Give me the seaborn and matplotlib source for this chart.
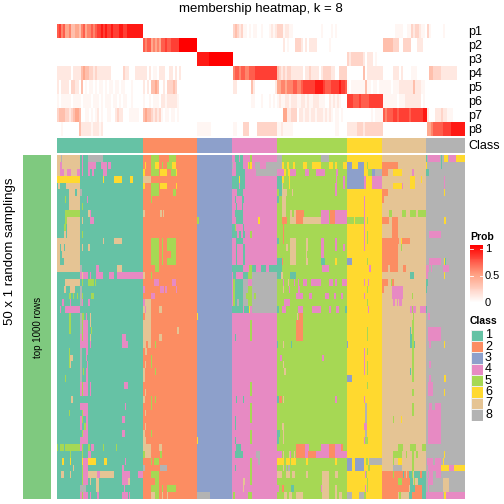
import numpy as np
import matplotlib
matplotlib.use("Agg")
import matplotlib.pyplot as plt
import seaborn as sns
from matplotlib.colors import ListedColormap, LinearSegmentedColormap

plt.rcParams['font.family'] = ['Liberation Sans', 'DejaVu Sans']

class_colors = ["#66C2A5", "#FC8D62", "#8DA0CB", "#E78AC3", "#A6D854", "#FFD92F", "#E5C494", "#B3B3B3"]
class_names = ["1", "2", "3", "4", "5", "6", "7", "8"]
class_widths = [86, 54, 35, 45, 70, 35, 44, 39]
prob_names = ["p1", "p2", "p3", "p4", "p5", "p6", "p7", "p8"]
prob_widths = [43, 27, 18, 22, 35, 18, 22, 19]
# hex digit in the strings below -> probability
prob_levels = [0, .05, .12, .22, .33, .45, .58, .7, .8, .92, 1]

# one string per class, one list per row p1..p8
p1 = ["7867556445546756676788989889888998899999999", "", "", "3432311010110010001212",
      "33312211000000000000001000010100000", "", "0000001111001132332110", "3100000010"]
p2 = ["", "767756565778778888aaaaaaaaa", "", "",
      "00020100033320202222000000100000000", "", "444443330033330002220", ""]
p3 = ["", "", "999999aaaaaaaaaaaa", "", "", "323333332022201000", "", ""]
p4 = ["2222222022224544332322222220000003220002222", "220201102220022020200000000", "", "6776776677788888888888",
      "43232332222220223222202333322003333", "000000004022222222", "0000022202000011100000", "0443333222222220000"]
p5 = ["2022220332204010110101101011011011000100", "202044540020333430000000000", "", "2200000004200000000002",
      "55665666776678888889999877788889887", "101111111411011011", "1111011122222224222110", ""]
p6 = ["1011111011110111101110101110110101100100", "1001011102212222210000000000", "", "0000000001100010001010",
      "12112212221122121122211100212121", "888777877778888888", "1111111011122222222010", ""]
p7 = ["3444332345540011010120100110023220001111100", "4544323231011011010000000", "", "",
      "000552233302212212212221212101101", "000000000000101111", "7677788788888788888899", "2000222322111000000"]
p8 = ["00100000000422222122212", "", "111111100000000000", "1100033300003333333333",
      "11211111000000000000000000000110000", "222223332333333333", "", "5567777788889999999"]
prob_rows = [p1, p2, p3, p4, p5, p6, p7, p8]

# main matrix: triples "class first_col end_col" painted over the column's own class, per row
left_stripes = [
    "7 0 23 8 4 5 4 25 26 8 31 46 5 94 102 5 112 119",
    "7 0 23 4 3 5 4 25 26 4 31 39 4 44 50 4 51 54 6 88 89 5 94 102 6 98 102 5 105 106 5 110 115 6 115 119",
    "7 0 23 4 3 7 4 10 14 4 20 23 4 25 26 4 31 33 4 35 37 4 46 50 6 86 88 5 94 102 6 103 110 5 114 119 6 119 120",
    "6 0 23 6 46 47 6 57 65 6 73 76 7 86 94",
    "7 1 3 7 9 23 6 86 88 5 94 102 6 103 110 6 119 120",
    "7 12 18 7 20 23 8 23 25 5 94 102 5 116 119",
    "5 8 9 7 12 23 4 30 31 5 94 95",
    "7 12 23 5 25 26",
    "5 8 23 7 31 33 4 33 34 7 86 88 7 103 105 7 106 107",
    "5 8 10 7 10 23 7 25 26 4 33 37 5 140 142",
    "5 7 9 7 10 23",
    "7 7 9 7 10 23 5 25 26",
    "7 0 23 7 46 47 7 57 65 5 94 102 5 105 106 5 110 119",
    "7 0 23 1 3 4 1 7 8 7 25 26 7 31 33 5 94 102 5 105 106 5 110 119",
    "7 0 3 7 5 23 5 94 102 5 105 106 5 114 119",
    "7 0 3 7 7 23 5 94 102 5 105 106 5 110 119",
    "7 0 23 8 23 25 4 39 42 7 60 65 5 98 102",
    "4 23 25 4 26 31 4 33 34 4 39 46 4 52 57 4 60 86 7 86 88 5 94 95 7 25 26",
    "7 8 23 5 25 26 5 31 37 5 38 39 4 97 102 4 115 119",
    "7 7 9 7 13 18 8 23 25 4 86 88 4 103 107 4 108 110 4 119 120",
    "5 12 14 5 16 17 5 20 21 8 23 25 5 25 26 5 34 37 4 94 98",
    "4 5 7 4 13 14 8 23 25 4 25 26 4 31 33 4 86 88 7 88 94",
    "4 3 4 4 8 23 7 86 88 4 88 89 7 89 94 7 102 105",
    "5 12 14 8 23 25 5 25 27 4 29 30 7 33 34 7 88 94 6 140 141",
    "5 12 14 8 23 25 5 25 26 4 26 31 7 33 34 7 86 94",
    "5 12 14 8 23 25 5 25 26 4 26 31 5 34 35 7 86 94 7 120 122",
    "4 23 25 5 25 26 4 26 31 7 33 34 4 65 69 7 86 94 7 102 105",
    "4 23 31 4 33 34 4 65 71 7 86 89 7 91 94 5 98 99",
    "5 12 13 8 23 25 4 29 31 7 88 90",
    "5 12 13 7 13 16 8 23 25 4 29 30 5 94 95",
    "5 12 13 7 13 14 8 23 25 4 30 31 7 88 89 5 94 95",
    "8 23 25 5 26 27 4 29 31 7 86 88 5 98 99",
    "5 8 9 8 23 25 4 29 31 7 86 88",
    "4 23 25 5 25 26 4 26 31 4 33 34 4 67 71",
    "4 23 31 5 25 26 4 33 34 7 88 89",
    "7 14 16 7 86 88 5 94 95 5 98 99",
    "4 23 31 4 68 69 5 94 95",
    "5 12 13 4 25 31 5 25 26 7 88 89",
    "4 23 25 5 25 26 4 29 31 4 65 68",
    "4 23 25 5 27 29 4 29 31 7 88 89",
    "4 26 31 5 25 26 4 65 68 7 86 88 5 94 95",
    "4 23 31 7 86 89 6 140 141",
    "5 0 1 5 3 7 5 8 23 4 23 25 5 25 26 5 31 33 4 34 37 5 46 47 5 59 60 7 86 94 7 102 105",
    "5 13 14 5 25 26 4 31 34 5 86 88 7 88 94 5 103 105",
    "6 5 7 6 13 14 6 25 26 4 26 31 6 31 39 6 47 50 4 68 69 5 94 95 5 97 102",
    "7 16 17 5 25 26 4 26 31 4 65 67 8 86 88 8 103 110",
    "7 4 7 7 13 14 5 25 26 4 26 31 7 31 40 4 40 43 7 43 57 4 65 73 4 81 86 5 94 102",
    "5 25 26 4 26 31 7 33 34 7 39 42 4 65 71 7 71 73 5 98 102",
    "8 23 29 7 39 42 4 67 68 5 94 102 5 105 106 5 110 119",
    "4 23 25 5 25 26 4 26 31 4 33 34 4 40 42 4 65 69 4 69 71 4 72 73 7 94 98 5 98 102 7 105 106 7 110 111 8 140 153",
]

mid_stripes = [
    "1 178 186 4 182 183 5 193 195 8 220 225 8 264 272",
    "8 175 176 1 179 186 6 191 192 5 192 193 6 193 195 8 198 203 8 209 220 8 220 225 6 225 227 6 230 232 6 236 238 6 246 250 6 255 264 6 272 276 6 278 280 6 286 290",
    "1 179 188 8 199 220 4 220 227 6 227 229 6 231 233 4 233 239 4 248 252 4 259 268 4 279 281",
    "1 175 182 6 182 183 1 183 188 1 220 225 6 225 227 6 232 233 4 279 280 4 286 288",
    "1 175 182 1 183 188 1 220 225 7 225 226 6 232 233 4 278 280 4 286 288",
    "1 180 186 1 222 225 7 225 230 7 235 236 4 278 280",
    "1 178 179 1 185 187 1 220 222 7 225 229",
    "1 179 180 1 185 186 7 225 229",
    "1 178 186 7 225 229 7 233 235 7 237 239 2 239 247 4 264 272 2 273 278 4 278 290",
    "1 179 186 6 201 203 2 225 230 7 233 239 2 239 246 7 246 264 4 264 272 2 273 278 4 278 290",
    "1 175 178 5 178 179 1 186 187 2 226 227",
    "1 175 180 1 182 184 1 186 188 5 193 195 2 226 227",
    "1 179 186 1 220 222 2 226 227 7 233 239 7 249 251 4 264 267 4 278 280",
    "1 179 180 1 186 188 7 229 231 7 233 239 7 249 251 4 264 267 4 278 280 4 286 288",
    "1 179 180 1 186 188 7 233 239 7 249 250 4 264 267",
    "1 179 180 1 186 188 1 220 225 2 225 226 7 233 239 7 249 251 1 264 268 6 278 280",
    "1 175 186 5 192 195 1 195 199 1 204 209 1 212 220 1 220 225 4 265 272",
    "1 176 179 1 186 191 5 191 195 8 195 220 1 220 224 7 224 226 1 233 239",
    "5 176 178 1 178 186 8 186 191 8 195 220 4 226 227 7 231 232 4 237 238 4 241 242 4 246 250 4 254 264 4 272 276 4 278 280 4 285 290",
    "5 176 178 1 178 186 8 186 191 5 191 195 8 195 220 7 226 227 4 232 233 4 241 243",
    "5 176 178 1 178 186 8 186 189 5 189 195 8 195 197 5 197 199 8 199 220 4 239 246 4 252 255 4 268 272 4 277 279 4 284 286",
    "5 176 178 1 178 180 8 180 182 1 182 186 8 186 191 5 191 195 8 195 220 4 227 233",
    "1 175 186 1 187 192 6 192 193 8 195 220 1 220 222 4 225 229 4 241 246 4 255 264 4 272 274 4 279 282 1 288 290",
    "7 240 241 2 242 246",
    "5 193 195 2 239 246",
    "5 193 195 2 239 246",
    "1 178 179 5 193 195 2 239 246",
    "1 220 221 7 226 227 1 234 235",
    "",
    "4 223 225 4 265 267",
    "7 226 227",
    "7 227 229",
    "",
    "5 193 195",
    "5 193 195",
    "1 179 180 1 186 187 1 220 222 2 222 225 7 226 227 4 278 280",
    "5 193 195",
    "5 193 195",
    "1 178 179 5 193 195",
    "1 178 179 7 225 227",
    "5 193 195 1 220 223 7 226 227",
    "1 178 179 5 193 195 1 220 222 7 226 227",
    "1 179 184 2 239 248 4 248 252 4 264 272 2 272 278 4 278 284 2 284 286",
    "1 178 186 8 199 203 4 220 225 7 226 227 7 232 233 4 233 234 7 237 238 2 239 248 4 248 251 2 251 259 4 259 272 2 272 278 4 278 290",
    "5 193 195 8 201 203 6 220 227 6 229 233 6 234 239 6 249 251 6 278 280",
    "1 178 179 5 193 195 7 226 227 8 229 230 8 231 233",
    "5 193 195 7 220 225 7 229 233 7 235 238 7 249 251 7 265 272 7 278 281",
    "7 186 188 5 193 195 7 265 272",
    "7 186 187 4 220 222 2 225 227 1 234 237 4 264 265 7 265 272 7 278 280",
    "5 176 178 5 191 195 7 227 230 7 232 235 7 239 246 7 265 272 7 278 280 7 282 285",
]

right_stripes = [
    "1 369 370 4 371 383 1 384 385 6 387 391 4 392 399 6 399 408",
    "3 290 295 3 301 307 5 310 311 2 325 341 6 369 370 1 384 385",
    "3 290 307 5 311 315 3 315 318 8 318 325 2 325 331 6 336 345 4 355 357 1 369 372",
    "3 290 307 4 307 309 4 315 325 6 353 358 6 364 365 4 387 388",
    "3 290 307 4 307 309 4 315 325 6 336 345 4 345 346 6 353 358 4 387 388",
    "2 325 331 6 387 388",
    "4 307 308 2 325 327",
    "4 307 308",
    "4 307 308 5 332 335 5 345 349 5 353 359 5 361 369",
    "5 290 297 5 298 307 4 307 308 5 310 311 2 325 332 2 335 341 6 387 389",
    "4 307 308 2 335 341",
    "4 307 308 5 310 311 2 335 341 4 372 384",
    "4 307 308 5 310 311 2 325 342 6 344 345 2 345 353",
    "4 307 308 2 325 341 5 344 345",
    "2 325 341",
    "3 290 295 5 310 311 2 325 341 4 372 384 6 387 388 1 388 389",
    "4 312 314 2 325 331 2 333 341 2 346 349 4 369 372 4 374 375 4 386 392",
    "1 353 357 4 369 371 6 387 388",
    "4 307 308 4 311 312 2 325 331 5 334 335 2 335 337 1 369 371",
    "5 310 311 2 325 327 4 335 346 1 369 370",
    "4 307 308 4 335 346 5 355 356",
    "5 310 311 4 336 338 4 340 341 4 342 345",
    "4 311 312 4 353 359 5 355 356 4 363 369 1 369 370",
    "5 356 357 4 371 373",
    "5 355 357",
    "5 310 311 1 353 354 5 355 357 4 371 384",
    "5 310 311 1 353 355 5 355 357 4 371 384",
    "3 290 291 1 353 355 5 355 357 1 357 358 4 372 374 6 387 388",
    "4 307 308 5 310 311 5 355 357",
    "4 307 308 5 355 357",
    "4 307 308 5 310 311 5 355 357 4 372 374",
    "4 307 308 5 310 311 1 353 354 5 355 357",
    "3 290 295 5 355 357 4 372 374 6 387 389",
    "5 310 311 4 371 376",
    "5 355 357 4 371 376 6 387 388",
    "4 307 308",
    "8 308 310 5 355 357 4 372 375 4 378 384",
    "8 308 310 5 355 357 4 371 384",
    "8 308 310 5 336 337 6 344 345 4 371 384",
    "4 307 310 4 371 384",
    "8 308 310 4 371 384",
    "4 307 308 5 308 311 4 371 384",
    "5 341 346 5 353 359 5 365 369",
    "5 336 345 5 349 350 5 355 357 5 359 361 6 387 388",
    "3 290 295 3 298 307 5 309 311 8 312 325 5 336 337 6 341 345 5 355 357 4 370 376 4 378 384 6 386 387",
    "3 290 295 3 298 307 5 311 313 8 336 345 5 355 357 4 371 384 6 384 392 4 392 397 6 397 408",
    "4 308 309 5 309 310 2 325 336 5 336 337 2 337 346 1 346 347 2 347 349 2 350 352 1 352 355 5 355 356 1 357 363 2 363 365 1 365 369 4 370 371 4 372 376 4 379 384",
    "5 310 311 2 325 341 5 341 345 2 345 353 1 353 356 5 357 358 1 361 369 4 371 376 7 386 392",
    "4 308 309 5 310 311 2 325 352 1 353 358 2 358 365 1 365 369 4 371 372 7 386 392",
    "8 290 295 8 302 307 5 307 309 2 325 341 5 342 344 1 352 355 2 355 365 1 365 369 4 369 386 6 387 389 4 389 408",
]

# Build the matrices
class_row = np.repeat(np.arange(1, 9), class_widths)
main = np.tile(class_row, (50, 1))
for stripes in (left_stripes, mid_stripes, right_stripes):
    for r, s in enumerate(stripes):
        t = [int(v) for v in s.split()]
        for i in range(0, len(t), 3):
            main[r, t[i + 1]:t[i + 2]] = t[i]

probs = []
for row in prob_rows:
    txt = "".join(s.ljust(n, "0")[:n] for s, n in zip(row, prob_widths))
    probs.append([prob_levels[int(c, 16)] for c in txt])
probs = np.array(probs)

class_cmap = ListedColormap(class_colors)
prob_cmap = LinearSegmentedColormap.from_list("prob", ["#FFFFFF", "#FF9E81", "#FF0000"])

fig = plt.figure(figsize=(5.04, 5.04), dpi=100)


def px_axes(x0, y0, x1, y1):
    return fig.add_axes([x0 / 504, 1 - y1 / 504, (x1 - x0) / 504, (y1 - y0) / 504])


def px_text(x, y, s, **kw):
    kw.setdefault("va", "center")
    fig.text(x / 504, 1 - y / 504, s, **kw)


def heat(ax, data, cmap, vmin, vmax, **kw):
    sns.heatmap(data, ax=ax, cmap=cmap, vmin=vmin, vmax=vmax, cbar=False,
                xticklabels=False, yticklabels=False, **kw)


# probability rows
ax = px_axes(57, 24, 465, 136.5)
heat(ax, probs, prob_cmap, 0, 1)

# class bar
ax = px_axes(57, 138, 465, 153)
heat(ax, class_row[None, :], class_cmap, 0.5, 8.5)

# main heatmap
ax = px_axes(57, 155, 465, 499)
heat(ax, main, class_cmap, 0.5, 8.5)

# left strip
ax = px_axes(23, 155, 51, 499)
heat(ax, np.zeros((1, 1)), ListedColormap(["#7FC97F"]), 0, 1)

px_text(261, 9, "membership heatmap, k = 8", ha="center", fontsize=9.5)
for i, name in enumerate(prob_names):
    px_text(468, 32 + i * 14, name, ha="left", fontsize=9)
px_text(468, 146, "Class", ha="left", fontsize=9)
px_text(10, 251, "50 x 1 random samplings", rotation=90, ha="center", fontsize=9.5)
px_text(38, 327, "top 1000 rows", rotation=90, ha="center", fontsize=7)

# legends
px_text(470, 237, "Prob", ha="left", fontsize=7.5, fontweight="bold")
ax = px_axes(470, 245, 482.5, 303)
heat(ax, np.linspace(1, 0, 60)[:, None], prob_cmap, 0, 1)
for v in (0.07, 0.53):
    ax.axhline(v * 60, color="white", lw=0.6, xmin=0, xmax=0.2)
    ax.axhline(v * 60, color="white", lw=0.6, xmin=0.8, xmax=1)
px_text(485, 249, "1", ha="left", fontsize=8)
px_text(485, 276, "0.5", ha="left", fontsize=8)
px_text(485, 303, "0", ha="left", fontsize=8)

px_text(470, 321, "Class", ha="left", fontsize=7.5, fontweight="bold")
ax = px_axes(470.5, 329.5, 482.5, 420.5)
heat(ax, np.arange(1, 9)[:, None], class_cmap, 0.5, 8.5, linewidths=0.6, linecolor="#EEEEEE")
for i, name in enumerate(class_names):
    px_text(485, 335.5 + i * 11.3, name, ha="left", fontsize=9)

fig.savefig("out.png", dpi=100)
